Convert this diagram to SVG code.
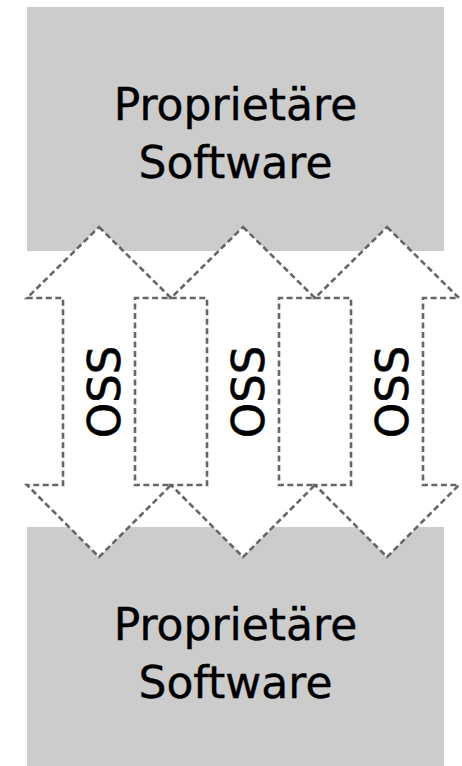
<svg xmlns="http://www.w3.org/2000/svg" width="462" height="766" viewBox="0 0 462 766">
  <style>
    .box { fill: #cccccc; }
    .arrow { fill: #ffffff; stroke: #666666; stroke-width: 2.6; stroke-dasharray: 6 3.5; stroke-linejoin: miter; }
    .lbl { font-family: "DejaVu Sans", sans-serif; font-size: 44px; fill: #000000; text-anchor: middle; stroke: #000000; stroke-width: 0.4; }
    .oss { font-family: "DejaVu Sans", sans-serif; font-size: 45px; fill: #000000; text-anchor: middle; stroke: #000000; stroke-width: 0.6; }
  </style>
  <rect width="462" height="766" fill="#ffffff"/>
  <g id="top-box">
    <rect class="box" x="27" y="7" width="417" height="244"/>
    <text class="lbl" x="235.5" y="120">Proprietäre</text>
    <text class="lbl" x="235.5" y="178">Software</text>
  </g>
  <g id="bottom-box">
    <rect class="box" x="27" y="527" width="417" height="239"/>
    <text class="lbl" x="235.5" y="640">Proprietäre</text>
    <text class="lbl" x="235.5" y="698">Software</text>
  </g>
  <g id="connectors">
    <g id="oss1">
      <polygon class="arrow" points="99,227 171,298 135,298 135,485 171,485 99,557 27,485 63,485 63,298 27,298"/>
      <text class="oss" transform="translate(120,392) rotate(-90)">OSS</text>
    </g>
    <g id="oss2">
      <polygon class="arrow" points="243,227 315,298 279,298 279,485 315,485 243,557 171,485 207,485 207,298 171,298"/>
      <text class="oss" transform="translate(264,392) rotate(-90)">OSS</text>
    </g>
    <g id="oss3">
      <polygon class="arrow" points="387,227 459,298 423,298 423,485 459,485 387,557 315,485 351,485 351,298 315,298"/>
      <text class="oss" transform="translate(408,392) rotate(-90)">OSS</text>
    </g>
  </g>
</svg>
